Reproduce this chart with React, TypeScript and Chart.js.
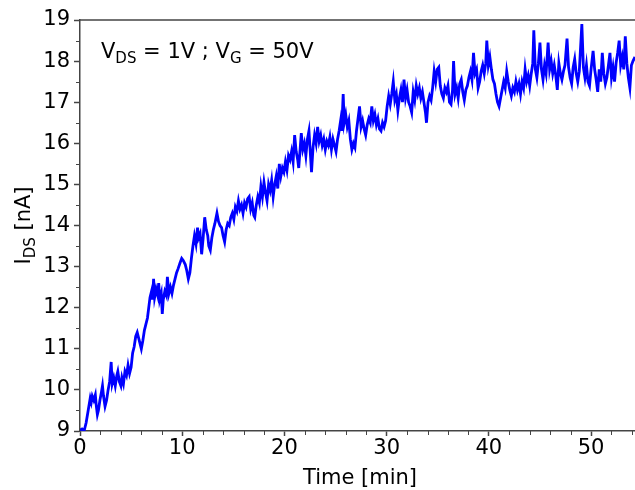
import React, { useEffect, useRef } from "react";
import { Chart, registerables } from "chart.js";

Chart.register(...registerables);

// Time stamps (min) and drain current (nA)
const T_MIN = [
  0.0, 0.2, 0.4, 0.6, 0.8, 1.0, 1.1, 1.2, 1.35, 1.5, 1.6, 1.7, 1.8, 1.95, 2.1, 2.2, 2.3, 2.45, 2.6, 2.75,
  2.9, 3.05, 3.15, 3.3, 3.45, 3.6, 3.7, 3.85, 4.0, 4.1, 4.25, 4.4, 4.55, 4.7, 4.85, 5.0, 5.15, 5.3, 5.45, 5.6,
  5.7, 5.85, 6.0, 6.15, 6.3, 6.45, 6.6, 6.75, 6.85, 7.0, 7.1, 7.2, 7.3, 7.45, 7.6, 7.7, 7.8, 7.95, 8.05, 8.15,
  8.3, 8.45, 8.55, 8.7, 8.85, 9.0, 9.15, 9.3, 9.45, 9.6, 9.8, 9.95, 10.1, 10.3, 10.45, 10.6, 10.75, 10.9, 11.05, 11.2,
  11.35, 11.5, 11.6, 11.75, 11.9, 12.05, 12.2, 12.35, 12.5, 12.6, 12.75, 12.9, 13.05, 13.2, 13.4, 13.55, 13.7, 13.85, 14.0, 14.15,
  14.3, 14.45, 14.6, 14.75, 14.9, 15.05, 15.2, 15.35, 15.5, 15.65, 15.8, 15.95, 16.1, 16.25, 16.4, 16.55, 16.7, 16.85, 17.0, 17.1,
  17.25, 17.4, 17.55, 17.7, 17.85, 18.0, 18.15, 18.3, 18.45, 18.6, 18.75, 18.9, 19.05, 19.2, 19.35, 19.5, 19.65, 19.8, 19.95, 20.1,
  20.25, 20.4, 20.55, 20.7, 20.85, 21.0, 21.15, 21.3, 21.4, 21.55, 21.65, 21.8, 21.95, 22.1, 22.25, 22.4, 22.55, 22.65, 22.8, 22.95,
  23.1, 23.25, 23.4, 23.55, 23.7, 23.85, 24.0, 24.15, 24.3, 24.45, 24.6, 24.75, 24.9, 25.05, 25.2, 25.35, 25.5, 25.6, 25.75, 25.85,
  26.0, 26.15, 26.3, 26.45, 26.6, 26.75, 26.9, 27.05, 27.2, 27.35, 27.5, 27.65, 27.8, 27.95, 28.1, 28.25, 28.4, 28.55, 28.7, 28.85,
  29.0, 29.15, 29.3, 29.45, 29.6, 29.75, 29.9, 30.05, 30.2, 30.35, 30.5, 30.65, 30.8, 30.95, 31.1, 31.25, 31.4, 31.55, 31.7, 31.85,
  32.0, 32.15, 32.3, 32.45, 32.6, 32.75, 32.9, 33.05, 33.2, 33.35, 33.5, 33.65, 33.8, 33.9, 34.05, 34.2, 34.35, 34.5, 34.65, 34.8,
  34.95, 35.1, 35.25, 35.4, 35.55, 35.7, 35.85, 36.0, 36.15, 36.3, 36.45, 36.55, 36.7, 36.85, 37.0, 37.15, 37.3, 37.45, 37.6, 37.75,
  37.9, 38.05, 38.2, 38.35, 38.5, 38.65, 38.8, 38.95, 39.1, 39.25, 39.4, 39.55, 39.7, 39.8, 39.95, 40.1, 40.25, 40.4, 40.55, 40.7,
  40.85, 41.0, 41.15, 41.3, 41.45, 41.6, 41.75, 41.9, 42.05, 42.2, 42.35, 42.5, 42.65, 42.8, 42.95, 43.1, 43.25, 43.4, 43.55, 43.7,
  43.85, 44.0, 44.15, 44.3, 44.4, 44.55, 44.7, 44.85, 45.0, 45.15, 45.3, 45.45, 45.6, 45.8, 45.95, 46.1, 46.25, 46.4, 46.55, 46.7,
  46.85, 47.0, 47.15, 47.3, 47.45, 47.65, 47.8, 47.95, 48.1, 48.25, 48.4, 48.55, 48.7, 48.85, 49.1, 49.25, 49.4, 49.55, 49.7, 49.85,
  50.0, 50.2, 50.35, 50.5, 50.65, 50.8, 50.95, 51.1, 51.25, 51.4, 51.55, 51.7, 51.85, 52.0, 52.15, 52.3, 52.45, 52.6, 52.75, 52.9,
  53.05, 53.2, 53.35, 53.5, 53.65, 53.8, 53.95, 54.1, 54.3,
];

const I_NA = [
  9.02, 9.05, 9.0, 9.2, 9.5, 9.8, 9.7, 9.85, 9.75, 9.88, 9.6, 9.4, 9.5, 9.75, 9.95, 10.1, 9.85, 9.6, 9.75, 10.0,
  10.2, 10.68, 10.15, 10.3, 10.1, 10.35, 10.45, 10.2, 10.1, 10.3, 10.15, 10.45, 10.35, 10.6, 10.4, 10.55, 10.9, 11.05, 11.3, 11.4,
  11.3, 11.15, 11.0, 11.2, 11.45, 11.6, 11.75, 12.05, 12.25, 12.4, 12.2, 12.7, 12.25, 12.45, 12.3, 12.6, 12.2, 12.35, 11.85, 12.2,
  12.4, 12.3, 12.75, 12.35, 12.5, 12.35, 12.55, 12.7, 12.85, 12.95, 13.1, 13.2, 13.15, 13.05, 12.9, 12.7, 12.85, 13.2, 13.5, 13.75,
  13.55, 13.95, 13.7, 13.8, 13.3, 13.7, 14.2, 13.9, 13.75, 13.5, 13.4, 13.7, 13.9, 14.05, 14.3, 14.1, 14.0, 13.95, 13.75, 13.6,
  13.9, 14.05, 14.0, 14.2, 14.3, 14.15, 14.45, 14.35, 14.6, 14.4, 14.5, 14.3, 14.55, 14.45, 14.65, 14.7, 14.4, 14.55, 14.25, 14.2,
  14.5, 14.7, 14.55, 14.95, 14.7, 15.05, 14.8, 14.6, 15.0, 14.85, 15.1, 14.7, 15.0, 15.2, 14.9, 15.5, 15.2, 15.4, 15.3, 15.55,
  15.35, 15.7, 15.6, 15.8, 15.55, 16.2, 15.8, 15.6, 15.4, 15.9, 16.25, 15.85, 16.0, 15.7, 16.1, 16.3, 15.7, 15.3, 15.9, 16.2,
  16.0, 16.4, 16.05, 16.2, 15.95, 16.1, 15.85, 16.05, 15.95, 16.15, 15.85, 16.1, 15.95, 15.8, 16.1, 16.3, 16.55, 16.3, 17.2, 16.5,
  16.7, 16.4, 16.55, 16.1, 15.85, 16.0, 15.9, 16.3, 16.6, 16.9, 16.4, 16.55, 16.35, 16.2, 16.45, 16.6, 16.5, 16.9, 16.55, 16.7,
  16.45, 16.6, 16.35, 16.3, 16.5, 16.4, 16.55, 16.9, 17.15, 16.95, 17.2, 17.5, 17.05, 17.2, 16.8, 17.1, 17.3, 17.0, 17.55, 17.1,
  17.3, 17.0, 16.9, 16.75, 17.25, 17.05, 17.4, 17.2, 17.35, 17.1, 17.25, 17.0, 16.75, 16.5, 17.0, 17.15, 17.05, 17.35, 17.75, 17.5,
  17.8, 17.85, 17.4, 17.2, 17.1, 17.35, 17.25, 17.4, 17.0, 16.95, 17.3, 18.0, 17.2, 17.35, 17.1, 17.45, 17.55, 17.25, 17.05, 17.3,
  17.4, 17.6, 17.75, 17.55, 18.2, 17.7, 17.8, 17.35, 17.5, 17.75, 17.9, 17.7, 17.95, 18.5, 17.9, 18.1, 17.8, 17.55, 17.45, 17.2,
  17.0, 16.9, 17.1, 17.3, 17.5, 17.35, 17.75, 17.5, 17.3, 17.15, 17.35, 17.25, 17.5, 17.3, 17.45, 17.2, 17.5, 17.35, 17.8, 17.5,
  17.65, 17.4, 17.7, 17.95, 18.75, 17.8, 17.6, 17.95, 18.45, 17.8, 17.55, 17.9, 17.7, 18.45, 17.8, 18.0, 17.7, 17.9, 17.65, 17.3,
  17.95, 17.7, 17.55, 17.75, 17.9, 18.55, 17.85, 17.6, 17.45, 17.85, 18.05, 17.7, 17.5, 17.75, 18.9, 17.85, 17.6, 17.9, 17.5, 17.4,
  17.8, 18.25, 17.8, 17.55, 17.25, 17.8, 17.5, 18.2, 17.7, 17.45, 17.6, 17.9, 18.2, 17.6, 17.85, 17.5, 17.95, 18.2, 18.5, 17.9,
  18.1, 17.8, 18.6, 17.95, 17.6, 17.35, 17.9, 18.0, 18.1,
];

const X_TICKS = [0, 10, 20, 30, 40, 50];
const X_MINOR = [2, 4, 6, 8, 12, 14, 16, 18, 22, 24, 26, 28, 32, 34, 36, 38, 42, 44, 46, 48, 52, 54];
const Y_TICKS = [9, 10, 11, 12, 13, 14, 15, 16, 17, 18, 19];
const Y_MINOR = [9.5, 10.5, 11.5, 12.5, 13.5, 14.5, 15.5, 16.5, 17.5, 18.5];
const X_TITLE = "Time [min]";
const Y_TITLE = ["I", "DS", " [nA]"];
const NOTE = [
  ["V", false], ["DS", true], [" = 1V ; V", false], ["G", true], [" = 50V", false],
] as [string, boolean][];

const FONT = "DejaVu Sans";
const FS = 21;
const SUB = 15;
const AXIS = "#444";

export default function App() {
  const ref = useRef<HTMLCanvasElement>(null);

  useEffect(() => {
    if (!ref.current) return;
    const points = T_MIN.map((t, i) => ({ x: t, y: I_NA[i] }));

    const deco = {
      id: "deco",
      afterDraw(chart: any) {
        const { ctx, chartArea } = chart;
        const xs = chart.scales.x;
        const ys = chart.scales.y;
        ctx.save();
        // top spine
        ctx.strokeStyle = AXIS;
        ctx.lineWidth = 1.5;
        ctx.beginPath();
        ctx.moveTo(chartArea.left - 0.75, chartArea.top);
        ctx.lineTo(chartArea.right, chartArea.top);
        ctx.stroke();
        // minor ticks
        ctx.lineWidth = 1;
        ctx.beginPath();
        for (const v of X_MINOR) {
          const px = Math.round(xs.getPixelForValue(v)) + 0.5;
          ctx.moveTo(px, chartArea.bottom);
          ctx.lineTo(px, chartArea.bottom + 4);
        }
        for (const v of Y_MINOR) {
          const py = Math.round(ys.getPixelForValue(v)) + 0.5;
          ctx.moveTo(chartArea.left, py);
          ctx.lineTo(chartArea.left - 4, py);
        }
        ctx.stroke();

        ctx.fillStyle = "#000";
        ctx.textBaseline = "alphabetic";
        ctx.textAlign = "left";
        // annotation
        let x = chartArea.left + 21;
        const base = 58;
        for (const [txt, sub] of NOTE) {
          ctx.font = `${sub ? SUB : FS}px "${FONT}"`;
          ctx.fillText(txt, x, sub ? base + 5 : base);
          x += ctx.measureText(txt).width;
        }
        // x title
        ctx.font = `${FS}px "${FONT}"`;
        ctx.textAlign = "center";
        ctx.fillText(X_TITLE, 360, 484);
        // y title
        ctx.save();
        ctx.translate(30, (chartArea.top + chartArea.bottom) / 2);
        ctx.rotate(-Math.PI / 2);
        ctx.textAlign = "left";
        const widths = Y_TITLE.map((t, i) => {
          ctx.font = `${i === 1 ? SUB : FS}px "${FONT}"`;
          return ctx.measureText(t).width;
        });
        let yx = -widths.reduce((a, b) => a + b, 0) / 2;
        Y_TITLE.forEach((t, i) => {
          ctx.font = `${i === 1 ? SUB : FS}px "${FONT}"`;
          ctx.fillText(t, yx, i === 1 ? 5 : 0);
          yx += widths[i];
        });
        ctx.restore();
        ctx.restore();
      },
    };

    const chart = new Chart(ref.current, {
      type: "line",
      data: {
        datasets: [
          {
            data: points,
            borderColor: "#0000ff",
            borderWidth: 2.8,
            pointRadius: 0,
            tension: 0,
            fill: false,
          },
        ],
      },
      options: {
        animation: false,
        responsive: false,
        devicePixelRatio: 1,
        layout: { padding: { top: 20, right: 0, left: 0, bottom: 0 } },
        plugins: { legend: { display: false }, tooltip: { enabled: false } },
        scales: {
          x: {
            type: "linear",
            min: 0,
            max: 54.3,
            afterFit(s: any) {
              s.height = 59;
            },
            afterBuildTicks(s: any) {
              s.ticks = X_TICKS.map((v) => ({ value: v }));
            },
            ticks: {
              autoSkip: false,
              maxRotation: 0,
              color: "#000",
              font: { family: FONT, size: FS },
              padding: 0,
            },
            grid: { drawOnChartArea: false, tickLength: 5, tickColor: AXIS, tickWidth: 1.5 },
            border: { color: AXIS, width: 1.5 },
          },
          y: {
            type: "linear",
            min: 9,
            max: 19,
            afterFit(s: any) {
              s.width = 80;
            },
            afterBuildTicks(s: any) {
              s.ticks = Y_TICKS.map((v) => ({ value: v }));
            },
            ticks: {
              autoSkip: false,
              color: "#000",
              font: { family: FONT, size: FS },
              padding: 4,
            },
            grid: { drawOnChartArea: false, tickLength: 6, tickColor: AXIS, tickWidth: 1.5 },
            border: { color: AXIS, width: 1.5 },
          },
        },
      },
      plugins: [deco],
    });
    return () => chart.destroy();
  }, []);

  return (
    <div style={{ position: "fixed", left: 0, top: 0, width: 635, height: 490, background: "#fff" }}>
      <canvas ref={ref} width={635} height={490} style={{ display: "block" }} />
    </div>
  );
}
